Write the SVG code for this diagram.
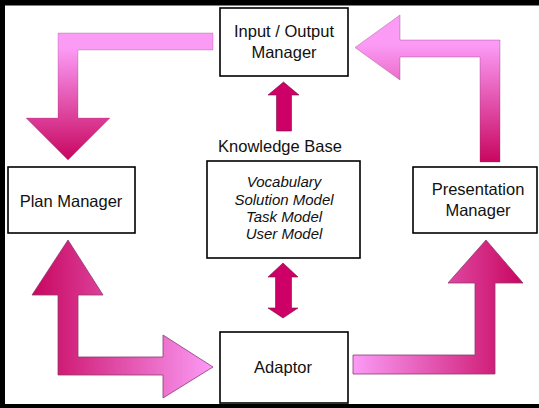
<svg xmlns="http://www.w3.org/2000/svg" width="539" height="408" viewBox="0 0 539 408">
  <defs>
    <linearGradient id="gTopLeft" gradientUnits="userSpaceOnUse" x1="0" y1="33" x2="0" y2="160">
      <stop offset="0.12" stop-color="#fb9bf6"/>
      <stop offset="1" stop-color="#c8065f"/>
    </linearGradient>
    <linearGradient id="gTopRight" gradientUnits="userSpaceOnUse" x1="0" y1="15" x2="0" y2="162">
      <stop offset="0.2" stop-color="#fb9bf6"/>
      <stop offset="1" stop-color="#c8065f"/>
    </linearGradient>
    <linearGradient id="gBotLeft" gradientUnits="userSpaceOnUse" x1="32" y1="0" x2="213" y2="0">
      <stop offset="0" stop-color="#c8065f"/>
      <stop offset="1" stop-color="#fb9bf6"/>
    </linearGradient>
    <linearGradient id="gBotRight" gradientUnits="userSpaceOnUse" x1="353" y1="0" x2="523" y2="0">
      <stop offset="0" stop-color="#fb9bf6"/>
      <stop offset="1" stop-color="#c8065f"/>
    </linearGradient>
  </defs>
  <style>
    .box { fill: #ffffff; stroke: #000000; stroke-width: 1.6; }
    .lbl { font-family: "Liberation Sans", Arial, sans-serif; font-size: 16.5px; fill: #111111; text-anchor: middle; }
    .kb { font-family: "Liberation Sans", Arial, sans-serif; font-size: 15px; font-style: italic; fill: #111111; text-anchor: middle; }
    .big { stroke: #8a3a72; stroke-width: 0.8; stroke-linejoin: miter; }
    .small { fill: #cc0066; stroke: #7a1048; stroke-width: 0.6; }
  </style>

  <!-- frame -->
  <rect x="0" y="0" width="539" height="408" fill="#000000"/>
  <rect x="5" y="5.5" width="540" height="398.5" fill="#ffffff"/>

  <!-- connectors -->
  <g id="connectors">
    <!-- Input/Output -> Plan Manager -->
    <polygon class="big" fill="url(#gTopLeft)" stroke-opacity="0.35"
      points="213,33 58,33 58,118 26,118 68,160 110,118 78,118 78,50 213,50"/>
    <!-- Presentation Manager -> Input/Output -->
    <polygon class="big" fill="url(#gTopRight)" stroke-opacity="0.45"
      points="500,40 400,40 400,15 355,47.5 400,80 400,57 480,57 480,162 500,162"/>
    <!-- Plan Manager <-> Adaptor -->
    <polygon class="big" fill="url(#gBotLeft)"
      points="68,240 103,295 78,295 78,357 163,357 163,335 213,367 163,398 163,375 58,375 58,295 32,295"/>
    <!-- Adaptor -> Presentation Manager -->
    <polygon class="big" fill="url(#gBotRight)"
      points="353,355 475,355 475,283 448,283 486,240 523,283 495,283 495,374 353,374"/>
    <!-- Knowledge Base -> Input/Output -->
    <polygon class="small" points="283.5,82 299,95 291.5,95 291.5,131 276.5,131 276.5,95 268,95"/>
    <!-- Knowledge Base <-> Adaptor -->
    <polygon class="small" points="283,263 298,277 291.5,277 291.5,308 298,308 283,318 268,308 275.5,308 275.5,277 268,277"/>
  </g>

  <g id="io-manager">
    <rect class="box" x="220" y="8" width="128" height="68"/>
    <text class="lbl" x="284" y="37">Input / Output</text>
    <text class="lbl" x="284" y="58">Manager</text>
  </g>

  <g id="plan-manager">
    <rect class="box" x="8" y="167" width="127" height="66"/>
    <text class="lbl" x="71" y="207">Plan Manager</text>
  </g>

  <g id="knowledge-base">
    <text class="lbl" x="280" y="152">Knowledge Base</text>
    <rect class="box" x="207" y="161" width="153" height="97"/>
    <text class="kb" x="284" y="187">Vocabulary</text>
    <text class="kb" x="284" y="205">Solution Model</text>
    <text class="kb" x="284" y="222">Task Model</text>
    <text class="kb" x="284" y="239">User Model</text>
  </g>

  <g id="presentation-manager">
    <rect class="box" x="413" y="167" width="124" height="66"/>
    <text class="lbl" x="478" y="195">Presentation</text>
    <text class="lbl" x="478" y="216">Manager</text>
  </g>

  <g id="adaptor">
    <rect class="box" x="220" y="332" width="128" height="71"/>
    <text class="lbl" x="283" y="373">Adaptor</text>
  </g>
</svg>
